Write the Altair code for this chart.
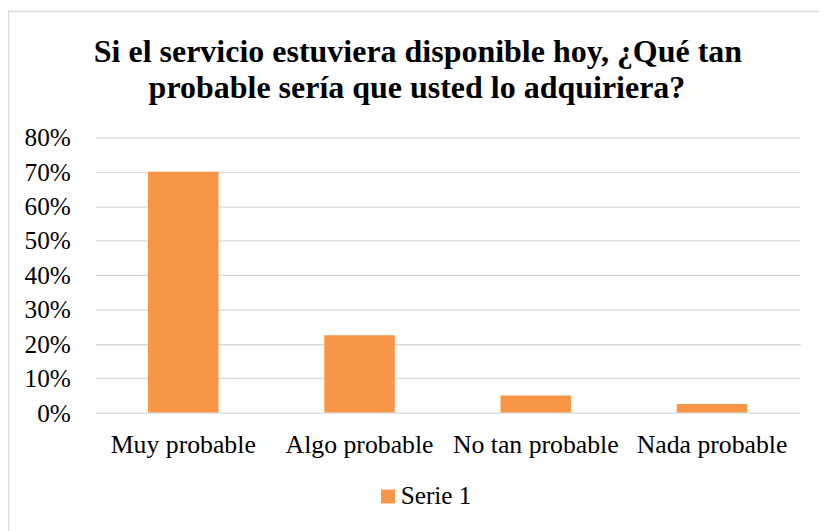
import altair as alt
import pandas as pd

categories = ["Muy probable", "Algo probable", "No tan probable", "Nada probable"]
values = [0.70, 0.225, 0.05, 0.025]
series = ["Serie 1"] * 4
title_lines = ["Si el servicio estuviera disponible hoy, ¿Qué tan",
               "probable sería que usted lo adquiriera?"]

df = pd.DataFrame({"cat": categories, "val": values, "serie": series})

FONT = "Liberation Serif"
W, H = 712, 278
FS = 26

bars = alt.Chart(df).mark_bar(color="#F79646").encode(
    x=alt.X("cat:N", sort=categories, title=None,
            scale=alt.Scale(paddingInner=0.6, paddingOuter=0.3),
            axis=alt.Axis(labelAngle=0, labelFont=FONT, labelFontSize=FS,
                          labelColor="#000000", labelPadding=19, ticks=False,
                          domain=False, grid=False, labelOverlap=False,
                          labelLimit=300)),
    y=alt.Y("val:Q", title=None,
            scale=alt.Scale(domain=[0, 0.8]),
            axis=alt.Axis(format=".0%", values=[0, 0.1, 0.2, 0.3, 0.4, 0.5, 0.6, 0.7, 0.8],
                          labelFont=FONT, labelFontSize=25.5, labelColor="#000000",
                          labelPadding=25, labelOffset=0.5, ticks=False, domain=False,
                          gridColor="#d9d9d9", gridWidth=1.3)),
    color=alt.Color("serie:N", scale=alt.Scale(range=["#F79646"]),
                    legend=alt.Legend(title=None, orient="none", legendX=283, legendY=350,
                                      symbolType="square", symbolSize=196,
                                      symbolStrokeWidth=0, labelFont=FONT,
                                      labelFontSize=25.5, labelColor="#000000",
                                      labelOffset=0)),
)

one = pd.DataFrame({"a": [0]})

border = alt.Chart(one).mark_rect(
    fill=None, stroke="#d9d9d9", strokeWidth=1.5
).encode(
    x=alt.value(-87.5), x2=alt.value(W + 40),
    y=alt.value(-127), y2=alt.value(H + 140),
)

title1 = alt.Chart(one).mark_text(
    font=FONT, fontSize=32.3, fontWeight="bold", color="#000000",
    align="center", baseline="alphabetic"
).encode(x=alt.value(326), y=alt.value(-76), text=alt.value(title_lines[0]))

title2 = alt.Chart(one).mark_text(
    font=FONT, fontSize=32.3, fontWeight="bold", color="#000000",
    align="center", baseline="alphabetic"
).encode(x=alt.value(325), y=alt.value(-39.5), text=alt.value(title_lines[1]))

chart = alt.layer(border, bars, title1, title2).properties(
    width=W, height=H,
    autosize=alt.AutoSizeParams(type="none"),
    padding={"left": 88, "top": 128, "right": 19, "bottom": 117},
).configure_view(stroke=None)

chart.save("out.html", embed_options={"renderer": "svg", "actions": False})
